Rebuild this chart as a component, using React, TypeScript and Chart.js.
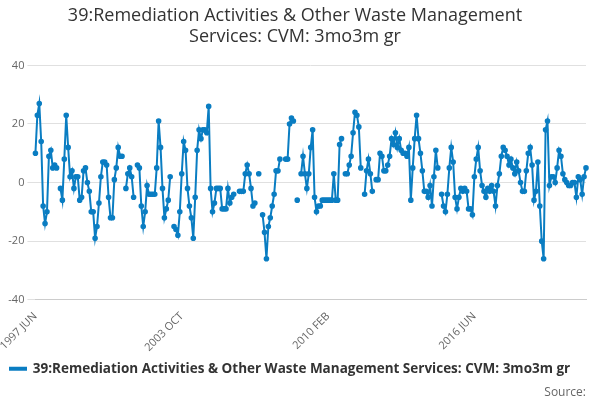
import React, { useEffect, useRef } from "react";
import { Chart, registerables } from "chart.js";
Chart.register(...registerables);

const MONTHS = ["JAN","FEB","MAR","APR","MAY","JUN","JUL","AUG","SEP","OCT","NOV","DEC"];
const startYear = 1997, startMonth = 5;
const shownTicks = ["1997 JUN", "2003 OCT", "2010 FEB", "2016 JUN", "2022 APR"];
const seriesName = "39:Remediation Activities & Other Waste Management Services: CVM: 3mo3m gr";

const values: (number | null)[] = [
  10,23,27,14,-8,-14,-10,
  9,11,5,6,5,null,-2,-6,8,23,12,2,
  4,-2,2,2,-6,-5,4,5,0,-3,-10,-10,
  -19,-15,-7,2,7,7,6,-5,-12,-12,1,5,
  12,9,9,null,-2,3,5,2,-5,null,6,5,
  -8,-15,-10,-1,-4,-4,-4,-4,5,21,12,-2,
  -12,-9,-6,2,null,-15,-16,-18,-10,3,14,11,
  -2,-8,-12,-19,-5,11,18,15,18,18,17,26,
  -2,-10,-7,-2,-2,-2,-9,-9,-9,-2,-7,-5,
  -4,null,null,-3,-3,-3,3,6,3,-2,-8,-7,
  null,3,null,-11,-17,-26,-15,-12,-8,-4,4,4,
  8,null,null,8,8,20,22,21,null,-6,null,3,
  9,3,-2,3,12,18,-5,-10,-8,-8,-6,-6,
  -6,-6,-6,-6,3,-6,-6,13,15,null,3,3,
  6,9,17,24,23,19,5,null,-4,4,8,3,
  -3,null,1,1,10,9,4,4,6,9,15,13,
  17,12,15,11,10,10,9,12,-6,5,15,23,
  15,10,4,-3,-3,-5,-1,-8,2,11,5,null,
  -4,-8,-10,-4,5,12,7,-5,-9,-5,-2,-3,
  -2,-3,-9,-9,-11,2,8,12,4,-1,-3,-5,
  -2,-3,-1,-3,-8,-1,3,9,12,11,9,6,
  8,5,3,7,4,0,-3,-3,4,10,12,6,
  -6,-3,7,-8,-20,-26,18,21,-1,2,2,0,
  5,11,9,3,1,0,-1,-1,0,0,-5,2,
  1,-4,2,5,
];

const labels = values.map((_, i) => {
  const m = startMonth + i;
  return `${startYear + Math.floor(m / 12)} ${MONTHS[m % 12]}`;
});

export default function App() {
  const ref = useRef<HTMLCanvasElement>(null);
  useEffect(() => {
    document.body.style.margin = "0";
    const chart = new Chart(ref.current!, {
      type: "line",
      data: {
        labels,
        datasets: [{
          label: seriesName,
          data: values,
          borderColor: "#0a7dc2",
          backgroundColor: "#0a7dc2",
          borderWidth: 2,
          pointRadius: 1.8,
          pointHoverRadius: 3,
          spanGaps: false,
          tension: 0,
        }],
      },
      options: {
        animation: false,
        responsive: false,
        layout: { padding: { left: 4, right: 14, top: 4, bottom: 0 } },
        plugins: {
          title: {
            display: true,
            text: ["39:Remediation Activities & Other Waste Management", "Services: CVM: 3mo3m gr"],
            color: "#333",
            font: { family: "'Open Sans', sans-serif", size: 18, weight: "normal", lineHeight: 1.15 },
            padding: { top: 2, bottom: 18 },
          },
          legend: {
            position: "bottom",
            align: "start",
            labels: {
              color: "#333",
              font: { family: "'Open Sans', sans-serif", size: 13.5, weight: "bold" },
              boxWidth: 16, boxHeight: 2, padding: 6,
            },
          },
          subtitle: {
            display: true,
            position: "bottom",
            align: "end",
            text: "Source:",
            color: "#666",
            font: { family: "'Open Sans', sans-serif", size: 12 },
            padding: { top: 0, bottom: 0 },
          },
          tooltip: { enabled: false },
        },
        scales: {
          x: {
            grid: { display: false },
            border: { color: "#ccc" },
            ticks: {
              autoSkip: false,
              maxRotation: 45,
              minRotation: 45,
              padding: 2,
              color: "#666",
              font: { family: "'Open Sans', sans-serif", size: 11 },
              callback: function (v: any) {
                const l = labels[Number(v)];
                return shownTicks.includes(l) ? l : "";
              },
            },
          },
          y: {
            min: -40,
            max: 40,
            ticks: { stepSize: 20, color: "#666", font: { family: "'Open Sans', sans-serif", size: 11 } },
            grid: { color: "#e0e0e0" },
            border: { display: false },
          },
        },
      },
    });
    return () => chart.destroy();
  }, []);
  return <canvas ref={ref} width={600} height={400} style={{ display: "block" }} />;
}
